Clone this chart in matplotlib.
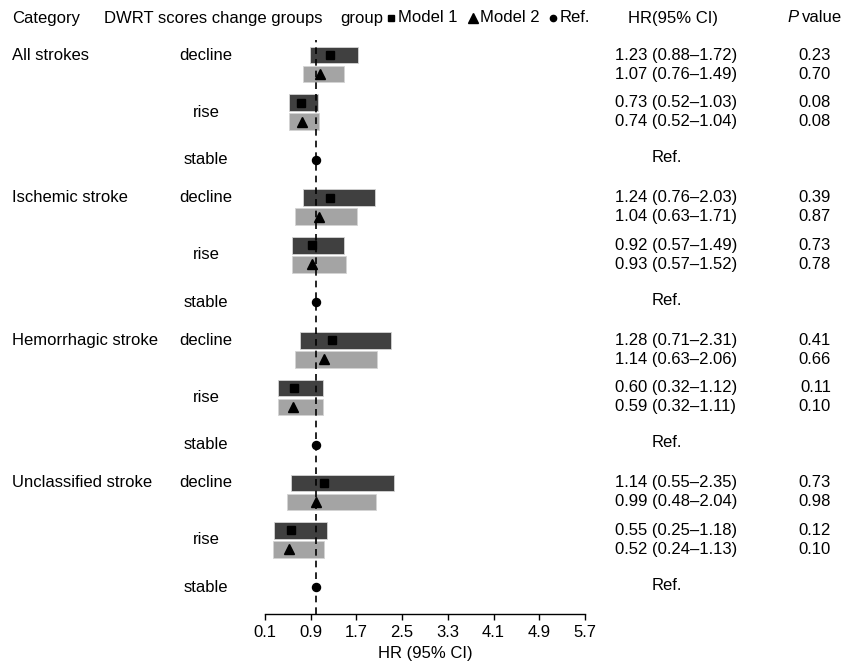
import matplotlib
matplotlib.use("Agg")
import matplotlib.pyplot as plt
import matplotlib.transforms as mtransforms

plt.rcParams['font.family'] = ['Liberation Sans', 'DejaVu Sans']

categories = ["All strokes", "Ischemic stroke", "Hemorrhagic stroke", "Unclassified stroke"]
subgroups = ["decline", "rise", "stable"]

# per category: [decline m1, decline m2, rise m1, rise m2]
hr = [[1.23, 1.07, 0.73, 0.74],
      [1.24, 1.04, 0.92, 0.93],
      [1.28, 1.14, 0.60, 0.59],
      [1.14, 0.99, 0.55, 0.52]]
lo = [[0.88, 0.76, 0.52, 0.52],
      [0.76, 0.63, 0.57, 0.57],
      [0.71, 0.63, 0.32, 0.32],
      [0.55, 0.48, 0.25, 0.24]]
hi = [[1.72, 1.49, 1.03, 1.04],
      [2.03, 1.71, 1.49, 1.52],
      [2.31, 2.06, 1.12, 1.11],
      [2.35, 2.04, 1.18, 1.13]]
pval = [["0.23", "0.70", "0.08", "0.08"],
        ["0.39", "0.87", "0.73", "0.78"],
        ["0.41", "0.66", "0.11", "0.10"],
        ["0.73", "0.98", "0.12", "0.10"]]
ref_hr = 1.0
xticks = [0.1, 0.9, 1.7, 2.5, 3.3, 4.1, 4.9, 5.7]

W, H = 847, 663
fig = plt.figure(figsize=(W / 100, H / 100), dpi=100)

def fx(px):
    return px / W

def fy(py):
    return 1 - py / H

ax = fig.add_axes([fx(265), fy(614), fx(585) - fx(265), fy(40) - fy(614)])

# row layout (row units)
step = 7.5
offs = [0, 1, 2.5, 3.5]
stable_off = 5.5
bar_h = 0.87
colors = ["#404040", "#a4a4a4"]
markers = ["s", "^"]
msizes = [5.3, 7.3]

tr = mtransforms.blended_transform_factory(fig.transFigure, ax.transData)
fs = 12

for g, cat in enumerate(categories):
    base = g * step
    for k in range(4):
        y = base + offs[k]
        m = k % 2
        ax.barh(y, hi[g][k] - lo[g][k], left=lo[g][k], height=bar_h,
                color=colors[m], edgecolor="#d4d4d4", linewidth=0.6, zorder=2)
        ax.plot(hr[g][k], y, marker=markers[m], color="black", ms=msizes[m],
                linestyle="none", zorder=4)
        txt = "%.2f (%.2f\u2013%.2f)" % (hr[g][k], lo[g][k], hi[g][k])
        ax.text(fx(615), y, txt, transform=tr, ha="left", va="center", fontsize=fs)
        ax.text(fx(831), y, pval[g][k], transform=tr, ha="right", va="center", fontsize=fs)
    ys = base + stable_off
    ax.plot(ref_hr, ys, marker="o", color="black", ms=5.8, linestyle="none", zorder=4)
    ax.text(fx(652), ys - 0.1, "Ref.", transform=tr, ha="left", va="center", fontsize=fs)
    ax.text(fx(12), base, cat, transform=tr, ha="left", va="center", fontsize=fs)
    sub_y = [base, base + (offs[2] + offs[3]) / 2, ys]
    for s, yy in zip(subgroups, sub_y):
        ax.text(fx(206), yy, s, transform=tr, ha="center", va="center", fontsize=fs)

ax.axvline(ref_hr, color="black", linestyle=(0, (4, 3)), linewidth=1.2, zorder=3)

ax.set_xlim(xticks[0], xticks[-1])
ax.set_ylim(step * 3 + stable_off + 1.4, -0.8)
ax.set_xticks(xticks)
ax.set_xticklabels(["%.1f" % t for t in xticks])
ax.set_yticks([])
for sp in ["top", "right", "left"]:
    ax.spines[sp].set_visible(False)
ax.spines["bottom"].set_linewidth(1.0)
ax.tick_params(axis="x", length=4, width=1.0, pad=4, labelsize=fs)
ax.set_xlabel("HR (95% CI)", fontsize=fs, labelpad=4)

# header
hy = fy(18)
fig.text(fx(12), hy, "Category", ha="left", va="center", fontsize=fs)
fig.text(fx(104), hy, "DWRT scores change groups", ha="left", va="center", fontsize=fs)
fig.text(fx(340), hy, "group", ha="left", va="center", fontsize=fs)
fig.add_artist(plt.Line2D([fx(391)], [hy], marker="s", color="black", ms=5, transform=fig.transFigure))
fig.text(fx(398), hy, "Model 1", ha="left", va="center", fontsize=fs)
fig.add_artist(plt.Line2D([fx(473)], [hy], marker="^", color="black", ms=6.5, transform=fig.transFigure))
fig.text(fx(480), hy, "Model 2", ha="left", va="center", fontsize=fs)
fig.add_artist(plt.Line2D([fx(553)], [hy], marker="o", color="black", ms=4.5, transform=fig.transFigure))
fig.text(fx(560), hy, "Ref.", ha="left", va="center", fontsize=fs)
fig.text(fx(628), hy, "HR(95% CI)", ha="left", va="center", fontsize=fs)
fig.text(fx(787), hy, "P", ha="left", va="center", fontsize=fs, style="italic")
fig.text(fx(802), hy, "value", ha="left", va="center", fontsize=fs)

fig.savefig("out.png", dpi=100)
